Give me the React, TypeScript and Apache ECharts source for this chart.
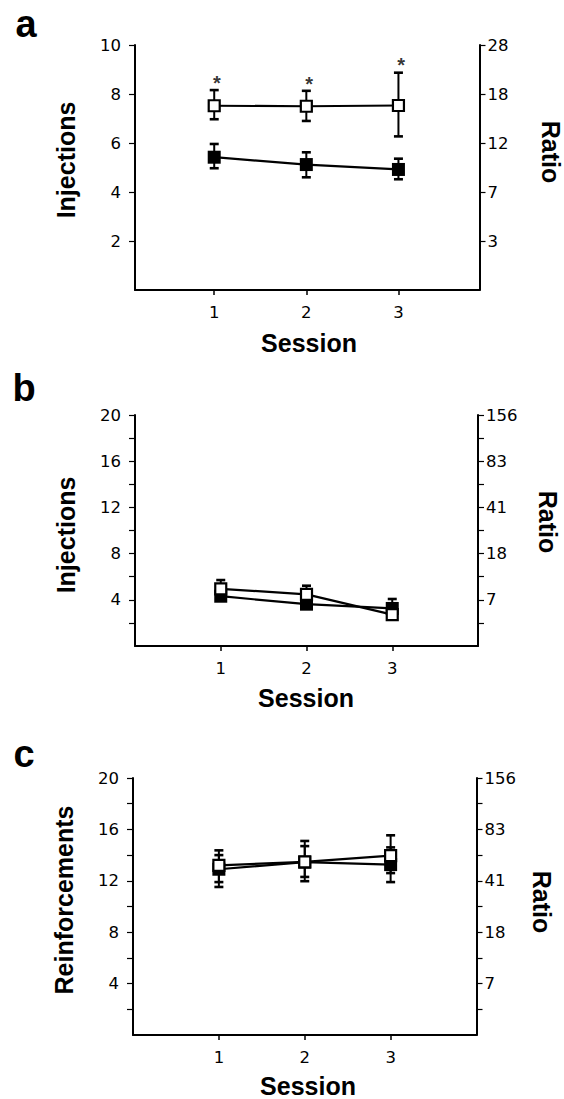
import React, { useEffect, useRef } from "react";
import * as echarts from "echarts";

// ---- data ----
const sessions = [1, 2, 3];

// Panel a (Injections, 0-10)
const aFilledMean = [5.42, 5.12, 4.92];
const aFilledHigh = [5.96, 5.62, 5.36];
const aFilledLow = [4.97, 4.6, 4.52];
const aOpenMean = [7.52, 7.5, 7.53];
const aOpenHigh = [8.16, 8.13, 8.87];
const aOpenLow = [6.97, 6.9, 6.27];
const aStars = [8.45, 8.41, 9.2];

// Panel b (Injections, 0-20)
const bFilledMean = [4.31, 3.62, 3.25];
const bFilledHigh = [4.7, 4.0, 4.07];
const bFilledLow = [3.95, 3.25, 2.43];
const bOpenMean = [4.95, 4.47, 2.72];
const bOpenHigh = [5.71, 5.22, 3.3];
const bOpenLow = [4.19, 3.72, 2.3];

// Panel c (Reinforcements, 0-20)
const cFilledMean = [12.9, 13.45, 13.26];
const cFilledHigh = [14.0, 14.7, 14.6];
const cFilledLow = [11.52, 12.3, 11.9];
const cOpenMean = [13.2, 13.48, 13.96];
const cOpenHigh = [14.37, 15.1, 15.54];
const cOpenLow = [11.9, 11.97, 12.6];

// tick labels
const xTicks = [1, 2, 3];
const aLeftTicks = [2, 4, 6, 8, 10];
const aRightLabels = ["3", "7", "12", "18", "28"];
const bcLeftLabels = [4, 8, 12, 16, 20];
const bcLeftTicks = [2, 4, 6, 8, 10, 12, 14, 16, 18, 20];
const bcRightLabels = ["7", "18", "41", "83", "156"];

const FONT = '"Liberation Sans", Arial, Helvetica, sans-serif';
const TICK_FONT = '"DejaVu Sans", "Liberation Sans", sans-serif';

function errRender(params: any, api: any) {
  const x = api.value(0);
  const lo = api.coord([x, api.value(1)]);
  const hi = api.coord([x, api.value(2)]);
  const w = 4.5;
  const style = { stroke: "#000", lineWidth: 2 };
  const cap = { stroke: "#000", lineWidth: 2.6 };
  return {
    type: "group",
    children: [
      { type: "line", shape: { x1: lo[0], y1: lo[1], x2: hi[0], y2: hi[1] }, style },
      { type: "line", shape: { x1: lo[0] - w, y1: lo[1], x2: lo[0] + w, y2: lo[1] }, style: cap },
      { type: "line", shape: { x1: hi[0] - w, y1: hi[1], x2: hi[0] + w, y2: hi[1] }, style: cap },
    ],
  };
}

export default function App() {
  const ref = useRef<HTMLDivElement>(null);
  useEffect(() => {
    if (!ref.current) return;
    const chart = echarts.init(ref.current, undefined, { renderer: "svg" });

    const panels = [
      {
        grid: { left: 135, right: 564 - 479.5, top: 45, height: 245 },
        xmin: 0.14, xmax: 3.88, ymax: 10,
        leftTicks: aLeftTicks, leftLabels: aLeftTicks,
        rightTicks: aLeftTicks, rightLabels: aRightLabels,
        filled: [aFilledMean, aFilledLow, aFilledHigh],
        open: [aOpenMean, aOpenLow, aOpenHigh],
        stars: aStars,
      },
      {
        grid: { left: 135, right: 564 - 478, top: 415, height: 231 },
        xmin: 0, xmax: 4, ymax: 20,
        leftTicks: bcLeftTicks, leftLabels: bcLeftLabels,
        rightTicks: bcLeftTicks, rightLabels: bcRightLabels,
        filled: [bFilledMean, bFilledLow, bFilledHigh],
        open: [bOpenMean, bOpenLow, bOpenHigh],
        stars: null as number[] | null,
      },
      {
        grid: { left: 133, right: 564 - 476.5, top: 778, height: 257 },
        xmin: 0, xmax: 4, ymax: 20,
        leftTicks: bcLeftTicks, leftLabels: bcLeftLabels,
        rightTicks: bcLeftTicks, rightLabels: bcRightLabels,
        filled: [cFilledMean, cFilledLow, cFilledHigh],
        open: [cOpenMean, cOpenLow, cOpenHigh],
        stars: null as number[] | null,
      },
    ];

    const grids: any[] = [];
    const xAxes: any[] = [];
    const yAxes: any[] = [];
    const series: any[] = [];
    const axisLine = { show: true, lineStyle: { color: "#000", width: 2 } };
    const labelStyle = { color: "#000", fontSize: 16.5, fontFamily: TICK_FONT };

    panels.forEach((p, i) => {
      grids.push(p.grid);
      xAxes.push({
        type: "value", gridIndex: i, min: p.xmin, max: p.xmax,
        axisLine: { ...axisLine, onZero: false },
        axisTick: { show: true, customValues: xTicks, length: 5, lineStyle: { color: "#000", width: 1.5 } },
        axisLabel: { ...labelStyle, customValues: xTicks, margin: 14 },
        splitLine: { show: false },
      });
      const rightVals = p.leftLabels;
      yAxes.push({
        type: "value", gridIndex: i, position: "left", min: 0, max: p.ymax,
        axisLine: { ...axisLine, onZero: false },
        axisTick: { show: true, customValues: p.leftTicks, length: 6, lineStyle: { color: "#000", width: 1.2 } },
        axisLabel: { ...labelStyle, customValues: p.leftLabels, margin: 14 },
        splitLine: { show: false },
      });
      yAxes.push({
        type: "value", gridIndex: i, position: "right", min: 0, max: p.ymax,
        axisLine: { ...axisLine, onZero: false },
        axisTick: { show: true, customValues: p.rightTicks, length: 6, lineStyle: { color: "#000", width: 1.2 } },
        axisLabel: {
          ...labelStyle, customValues: rightVals, margin: 8,
          formatter: (v: number) => {
            const k = rightVals.indexOf(v);
            return k >= 0 ? p.rightLabels[k] : "";
          },
        },
        splitLine: { show: false },
      });
      const yi = i * 2;
      const mk = (arr: number[][]) => sessions.map((s, k) => [s, arr[1][k], arr[2][k]]);
      series.push({
        type: "custom", xAxisIndex: i, yAxisIndex: yi, renderItem: errRender,
        data: mk(p.filled), encode: { x: 0, y: [1, 2] }, z: 1, silent: true,
      });
      series.push({
        type: "custom", xAxisIndex: i, yAxisIndex: yi, renderItem: errRender,
        data: mk(p.open), encode: { x: 0, y: [1, 2] }, z: 1, silent: true,
      });
      series.push({
        type: "line", xAxisIndex: i, yAxisIndex: yi, z: 2,
        data: sessions.map((s, k) => [s, p.filled[0][k]]),
        symbol: "rect", symbolSize: 13, showSymbol: true,
        itemStyle: { color: "#000" },
        lineStyle: { color: "#000", width: 2.2 },
      });
      series.push({
        type: "line", xAxisIndex: i, yAxisIndex: yi, z: 3,
        data: sessions.map((s, k) => [s, p.open[0][k]]),
        symbol: "rect", symbolSize: 11, showSymbol: true,
        itemStyle: { color: "#fff", borderColor: "#000", borderWidth: 2.2 },
        lineStyle: { color: "#000", width: 2.2 },
      });
      if (p.stars) {
        series.push({
          type: "scatter", xAxisIndex: i, yAxisIndex: yi, z: 4,
          data: sessions.map((s, k) => [s + 0.03, (p.stars as number[])[k]]),
          symbol: "circle", symbolSize: 1,
          itemStyle: { color: "rgba(0,0,0,0)" },
          label: { show: true, position: "inside", formatter: "*", color: "#000", fontSize: 20, fontWeight: "bold", fontFamily: FONT },
        });
      }
    });

    const titleFont = `bold 25px ${FONT}`;
    const txt = (text: string, x: number, y: number, rotation: number, font: string) => ({
      type: "text", x, y, rotation,
      style: { text, font, fill: "#000", textAlign: "center", textVerticalAlign: "middle", verticalAlign: "middle" },
    });

    const graphic = [
      txt("a", 26, 24, 0, `bold 38px ${FONT}`),
      txt("b", 24, 388, 0, `bold 38px ${FONT}`),
      txt("c", 24, 754, 0, `bold 38px ${FONT}`),
      txt("Injections", 66, 160, Math.PI / 2, titleFont),
      txt("Injections", 66, 535, Math.PI / 2, titleFont),
      txt("Reinforcements", 64, 900, Math.PI / 2, titleFont),
      txt("Ratio", 551, 152, -Math.PI / 2, titleFont),
      txt("Ratio", 548, 522, -Math.PI / 2, titleFont),
      txt("Ratio", 542, 902, -Math.PI / 2, titleFont),
      txt("Session", 309, 343, 0, titleFont),
      txt("Session", 306, 698, 0, titleFont),
      txt("Session", 308, 1086, 0, titleFont),
    ];

    chart.setOption({
      animation: false,
      backgroundColor: "#fff",
      grid: grids,
      xAxis: xAxes,
      yAxis: yAxes,
      series,
      graphic,
    });
    return () => chart.dispose();
  }, []);
  return (
    <div
      ref={ref}
      style={{ position: "absolute", left: 0, top: 0, width: 564, height: 1099 }}
    />
  );
}
